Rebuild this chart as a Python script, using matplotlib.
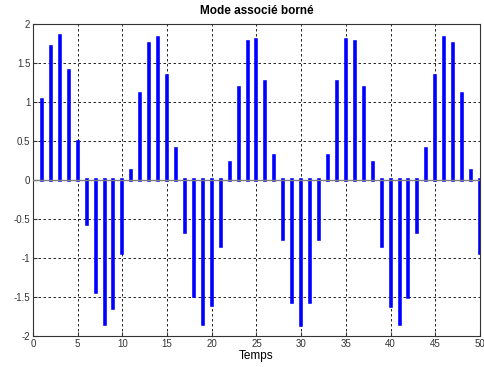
import numpy as np
import matplotlib.pyplot as plt

# temps discret et valeurs du mode
temps = np.arange(0, 51)
mode = [0.0,
        1.02, 1.70, 1.84, 1.40, 0.49, -0.57, -1.43, -1.84, -1.64, -0.93,
        0.11, 1.10, 1.75, 1.82, 1.33, 0.40, -0.67, -1.49, -1.84, -1.60,
        -0.84, 0.22, 1.18, 1.77, 1.80, 1.26, 0.31, -0.76, -1.56, -1.86,
        -1.56, -0.76, 0.31, 1.26, 1.80, 1.77, 1.18, 0.22, -0.85, -1.61,
        -1.85, -1.50, -0.67, 0.40, 1.33, 1.82, 1.75, 1.10, 0.11, -0.93]

plt.rcParams['font.family'] = 'Liberation Sans'

fig = plt.figure(figsize=(4.85, 3.67), dpi=100)
ax = fig.add_axes([33 / 485, 1 - 336 / 367, 447 / 485, 312 / 367])

ax.vlines(temps, 0, mode, color='blue', linewidth=2.6, capstyle='projecting', zorder=2)
ax.axhline(0, color='#808080', linewidth=1, zorder=3)

ax.set_xlim(0, 50)
ax.set_ylim(-2, 2)
ax.set_xticks(np.arange(0, 51, 5))
ax.set_yticks(np.arange(-2, 2.01, 0.5))
ax.set_yticklabels(['-2', '-1.5', '-1', '-0.5', '0', '0.5', '1', '1.5', '2'])
ax.grid(True, color='black', linestyle=(0, (3, 3)), linewidth=0.6)
ax.tick_params(labelsize=7, colors='#333333', length=3, direction='in', pad=2)
for s in ax.spines.values():
    s.set_linewidth(0.8)
    s.set_color('#333333')

ax.set_xlabel('Temps', fontsize=8.5, labelpad=1)
ax.set_title('Mode associé borné', fontsize=8.5, fontweight='bold', pad=7)

fig.savefig('out.png', dpi=100)
